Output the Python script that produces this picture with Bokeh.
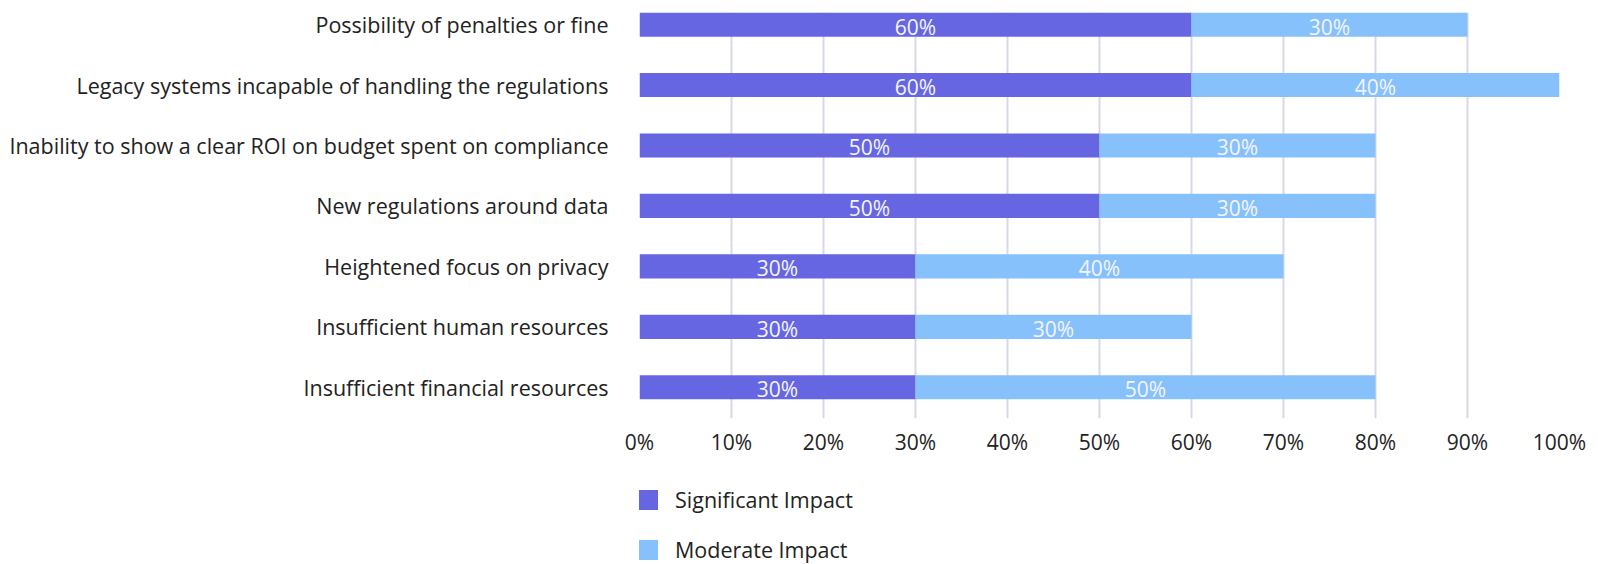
from bokeh.plotting import figure
from bokeh.layouts import column
from bokeh.models import (ColumnDataSource, Range1d, FixedTicker, PrintfTickFormatter,
                          Legend, LegendItem)
from bokeh.core.properties import value
from bokeh.embed import file_html
from bokeh.resources import INLINE

categories = [
    "Possibility of penalties or fine",
    "Legacy systems incapable of handling the regulations",
    "Inability to show a clear ROI on budget spent on compliance",
    "New regulations around data",
    "Heightened focus on privacy",
    "Insufficient human resources",
    "Insufficient financial resources",
]
significant = [60, 60, 50, 50, 30, 30, 30]
moderate = [30, 40, 30, 30, 40, 30, 50]
x_ticks = [0, 10, 20, 30, 40, 50, 60, 70, 80, 90, 100]
series_names = ["Significant Impact", "Moderate Impact"]

FONT = "Open Sans"
FS = "21px"
FS_CAT = "21.5px"
DARK = "#6666e3"
LIGHT = "#87c1fc"

n = len(categories)
ypos = [n - 1 - i for i in range(n)]
src = ColumnDataSource(dict(
    y=ypos,
    sig=significant,
    mod=moderate,
    total=[s + m for s, m in zip(significant, moderate)],
    sig_mid=[s / 2 for s in significant],
    mod_mid=[s + m / 2 for s, m in zip(significant, moderate)],
    sig_lbl=[f"{s}%" for s in significant],
    mod_lbl=[f"{m}%" for m in moderate],
))

p1 = figure(width=1598, height=470, output_backend="svg", toolbar_location=None,
            x_range=Range1d(0, 100), y_range=Range1d(-0.517, n - 1 + 0.2),
            min_border_left=639, min_border_right=39, min_border_top=12,
            min_border_bottom=52)
p1.outline_line_color = None
p1.background_fill_color = "white"
p1.border_fill_color = "white"

p1.hbar(y="y", left=0, right="sig", height=0.4, source=src, color=DARK, line_color=None)
p1.hbar(y="y", left="sig", right="total", height=0.4, source=src, color=LIGHT, line_color=None)

for xcol, tcol in (("sig_mid", "sig_lbl"), ("mod_mid", "mod_lbl")):
    p1.text(x=xcol, y="y", text=tcol, source=src, text_align="center",
            text_baseline="middle", text_color="#f4f4ff", text_font=value(FONT),
            text_font_size=FS, y_offset=2)

p1.xaxis.ticker = FixedTicker(ticks=x_ticks)
p1.xaxis.formatter = PrintfTickFormatter(format="%d%%")
p1.xaxis.axis_line_color = None
p1.xaxis.major_tick_line_color = None
p1.xaxis.minor_tick_line_color = None
p1.xaxis.major_tick_out = 0
p1.xaxis.major_tick_in = 0
p1.xaxis.major_label_text_font = FONT
p1.xaxis.major_label_text_font_size = FS
p1.xaxis.major_label_text_color = "#222222"
p1.xaxis.major_label_standoff = 9

p1.yaxis.ticker = FixedTicker(ticks=ypos)
p1.yaxis.major_label_overrides = {y: c for y, c in zip(ypos, categories)}
p1.yaxis.axis_line_color = None
p1.yaxis.major_tick_line_color = None
p1.yaxis.minor_tick_line_color = None
p1.yaxis.major_tick_out = 0
p1.yaxis.major_tick_in = 0
p1.yaxis.major_label_text_font = FONT
p1.yaxis.major_label_text_font_size = FS_CAT
p1.yaxis.major_label_text_color = "#222222"
p1.yaxis.major_label_standoff = 31

p1.ygrid.grid_line_color = None
p1.xgrid.grid_line_color = "#d6d8e8"
p1.xgrid.grid_line_width = 2

# legend strip (separate figure; its renderers sit outside its visible range)
p2 = figure(width=1598, height=94, output_backend="svg", toolbar_location=None,
            x_range=Range1d(1000, 1001), y_range=Range1d(1000, 1001),
            min_border_left=0, min_border_right=0, min_border_top=0, min_border_bottom=0)
p2.axis.visible = False
p2.grid.visible = False
p2.outline_line_color = None
p2.background_fill_color = "white"
p2.border_fill_color = "white"
l1 = p2.hbar(y="y", left=0, right="sig", height=0.4, source=src, color=DARK, line_color=None)
l2 = p2.hbar(y="y", left="sig", right="total", height=0.4, source=src, color=LIGHT, line_color=None)

legend = Legend(items=[LegendItem(label=series_names[0], renderers=[l1]),
                       LegendItem(label=series_names[1], renderers=[l2])],
                location=(-4, 0), orientation="vertical",
                glyph_width=25, glyph_height=25, label_standoff=15,
                spacing=21, padding=0, margin=0, border_line_color=None,
                background_fill_alpha=0, label_text_font=FONT,
                label_text_font_size=FS_CAT, label_text_color="#222222",
                label_height=28)
p2.add_layout(legend, "center")

layout = column(p1, p2, spacing=0)
open("out.html", "w").write(file_html(layout, INLINE))
